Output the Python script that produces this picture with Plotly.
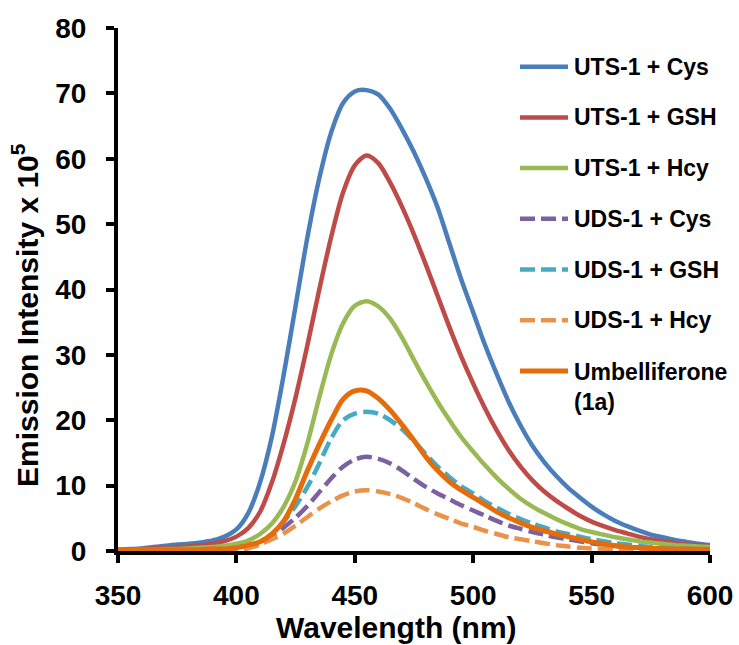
import plotly.graph_objects as go

# Emission wavelength grid (nm)
wavelength = list(range(350, 601, 5))

# Emission intensity (x 10^5) for each probe / thiol combination
uts_cys = [0.2, 0.3, 0.4, 0.6, 0.8, 1.0, 1.1, 1.3, 1.6, 2.2,
           3.3, 5.8, 10.5, 17.5, 27.0, 37.5, 48.0, 57.0, 64.0, 68.5,
           70.3, 70.5, 69.8, 67.6, 64.5, 61.0, 57.0, 52.5, 47.0, 41.5,
           36.5, 31.5, 27.0, 22.8, 19.2, 16.1, 13.6, 11.5, 9.7, 8.2,
           6.8, 5.6, 4.6, 3.8, 3.1, 2.5, 2.1, 1.7, 1.4, 1.1, 0.9]
uts_gsh = [0.1, 0.2, 0.3, 0.4, 0.5, 0.6, 0.7, 0.9, 1.1, 1.5,
           2.2, 3.5, 6.0, 10.5, 16.5, 23.5, 31.5, 40.0, 48.0, 54.8,
           59.0, 60.5, 59.3, 56.3, 52.6, 48.4, 43.8, 39.0, 34.2, 29.7,
           25.6, 21.8, 18.4, 15.4, 12.9, 10.8, 9.1, 7.7, 6.5, 5.4,
           4.5, 3.8, 3.2, 2.7, 2.2, 1.8, 1.5, 1.2, 1.0, 0.9, 0.8]
uts_hcy = [0.1, 0.1, 0.2, 0.2, 0.3, 0.3, 0.4, 0.5, 0.6, 0.8,
           1.1, 1.6, 2.6, 4.2, 6.8, 10.7, 16.5, 23.5, 30.0, 34.8,
           37.5, 38.2, 37.4, 35.5, 32.6, 29.2, 25.9, 22.8, 20.0, 17.4,
           15.2, 13.1, 11.2, 9.5, 8.0, 6.8, 5.8, 4.9, 4.1, 3.4,
           2.9, 2.5, 2.1, 1.8, 1.5, 1.3, 1.1, 0.9, 0.8, 0.7, 0.6]
uds_cys = [0.1, 0.1, 0.1, 0.1, 0.1, 0.1, 0.1, 0.1, 0.1, 0.1,
           0.2, 0.5, 1.2, 2.2, 3.6, 5.1, 6.9, 9.0, 11.1, 12.9,
           14.0, 14.4, 14.1, 13.4, 12.3, 11.0, 9.8, 8.8, 7.9, 7.0,
           6.2, 5.4, 4.6, 3.9, 3.4, 2.9, 2.5, 2.1, 1.8, 1.5,
           1.2, 1.0, 0.8, 0.6, 0.5, 0.4, 0.3, 0.25, 0.2, 0.15, 0.1]
uds_gsh = [0.1, 0.1, 0.1, 0.1, 0.1, 0.1, 0.1, 0.1, 0.1, 0.1,
           0.2, 0.5, 1.3, 2.5, 4.5, 6.9, 9.8, 13.4, 17.2, 20.0,
           21.0, 21.3, 21.0, 20.0, 18.6, 16.8, 14.8, 12.9, 11.3, 9.9,
           8.8, 7.6, 6.6, 5.7, 4.9, 4.2, 3.6, 3.0, 2.6, 2.2,
           1.8, 1.5, 1.2, 1.0, 0.8, 0.6, 0.5, 0.4, 0.35, 0.3, 0.25]
uds_hcy = [0.05, 0.05, 0.05, 0.05, 0.05, 0.05, 0.05, 0.05, 0.05, 0.05,
           0.1, 0.4, 1.0, 1.8, 2.7, 3.9, 5.2, 6.5, 7.6, 8.5,
           9.1, 9.3, 9.1, 8.7, 8.1, 7.3, 6.4, 5.6, 4.9, 4.2,
           3.7, 3.1, 2.6, 2.1, 1.8, 1.5, 1.2, 0.9, 0.7, 0.5,
           0.4, 0.35, 0.3, 0.25, 0.2, 0.15, 0.1, 0.1, 0.05, 0.05, 0.05]
umbelliferone = [0.2, 0.2, 0.2, 0.2, 0.2, 0.2, 0.2, 0.2, 0.3, 0.3,
                 0.5, 0.9, 1.4, 2.6, 4.6, 8.0, 12.3, 16.3, 20.0, 23.2,
                 24.5, 24.5, 23.3, 21.5, 19.3, 16.9, 14.4, 12.3, 10.6, 9.3,
                 8.2, 7.1, 6.0, 5.1, 4.3, 3.6, 3.1, 2.6, 2.2, 1.8,
                 1.4, 1.1, 0.8, 0.6, 0.5, 0.4, 0.35, 0.3, 0.3, 0.25, 0.2]

series_names = ["UTS-1 + Cys", "UTS-1 + GSH", "UTS-1 + Hcy",
                "UDS-1 + Cys", "UDS-1 + GSH", "UDS-1 + Hcy",
                "Umbelliferone<br>(1a)"]
series_values = [uts_cys, uts_gsh, uts_hcy, uds_cys, uds_gsh, uds_hcy, umbelliferone]

colors = ["#4A7EBB", "#BE4B48", "#98B954", "#7D60A0", "#46AAC5", "#E8924A", "#E46C0A"]
DASH = "15px,6px"
dashes = ["solid", "solid", "solid", DASH, DASH, DASH, "solid"]
widths = [4.5, 4.5, 4.5, 4.5, 4.5, 4.5, 5]

FONT = "Liberation Sans, Arial, sans-serif"

# Plot-area geometry in pixels (used to place the hand-drawn legend and titles)
W, H = 739, 645
PL, PR, PT, PB = 118, 710, 28, 551


def px_x(x):
    return (x - PL) / (PR - PL)


def px_y(y):
    return (PB - y) / (PB - PT)


fig = go.Figure()
for name, vals, col, dsh, lw in zip(series_names, series_values, colors, dashes, widths):
    fig.add_trace(go.Scatter(
        x=wavelength, y=vals, mode="lines", name=name.replace("<br>", " "),
        line=dict(color=col, width=lw, dash=dsh, shape="spline", smoothing=0.8),
        showlegend=False,
    ))

# Legend: short line sample plus bold label for each series
shapes = []
annotations = []
row0, row_gap = 66.7, 50.7
for i, (name, col, dsh, lw) in enumerate(zip(series_names, colors, dashes, widths)):
    yc = row0 + i * row_gap
    shapes.append(dict(type="line", xref="paper", yref="paper",
                       x0=px_x(520), x1=px_x(568), y0=px_y(yc), y1=px_y(yc),
                       line=dict(color=col, width=lw, dash=dsh)))
    multi = "<br>" in name
    annotations.append(dict(
        xref="paper", yref="paper", x=px_x(572), y=px_y(yc - 14) if multi else px_y(yc),
        xanchor="left", yanchor="top" if multi else "middle", align="left",
        text=name, showarrow=False,
        font=dict(family=FONT, size=23, color="black", weight="bold"),
    ))

# Axis titles
annotations.append(dict(
    xref="paper", yref="paper", x=px_x(396), y=px_y(627),
    xanchor="center", yanchor="middle", showarrow=False,
    text="Wavelength (nm)",
    font=dict(family=FONT, size=30, color="black", weight="bold"),
))
annotations.append(dict(
    xref="paper", yref="paper", x=px_x(25), y=px_y(315),
    xanchor="center", yanchor="middle", showarrow=False, textangle=-90,
    text="Emission Intensity x 10<sup>5</sup>",
    font=dict(family=FONT, size=30, color="black", weight="bold"),
))

axis_common = dict(
    showgrid=False, zeroline=False, showline=True, linecolor="black", linewidth=4,
    ticks="outside", ticklen=8, tickwidth=3.5, tickcolor="black",
    tickfont=dict(family=FONT, size=28, color="black", weight="bold"),
)

fig.update_layout(
    width=W, height=H,
    margin=dict(l=PL, r=W - PR, t=PT, b=H - PB, autoexpand=False),
    paper_bgcolor="white", plot_bgcolor="white",
    xaxis=dict(range=[350, 600], tick0=350, dtick=50, ticklabelstandoff=8, **axis_common),
    yaxis=dict(range=[0, 80], tick0=0, dtick=10, ticklabelstandoff=14, **axis_common),
    shapes=shapes, annotations=annotations,
    showlegend=False,
)

fig.write_html("out.html")
